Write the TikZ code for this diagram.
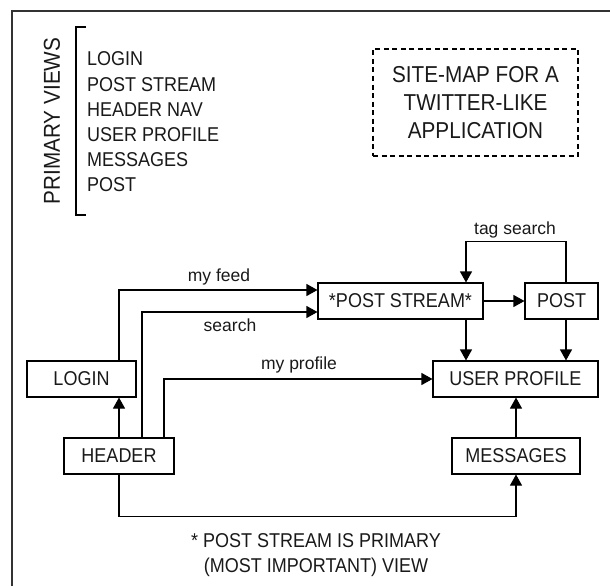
\documentclass[tikz,border=0pt]{standalone}
\usepackage{fontspec}
\setmainfont[FakeStretch=0.9]{Liberation Sans}
\newfontfamily\labfont{Liberation Sans}
\usetikzlibrary{arrows.meta,calc}
\tikzset{
  box/.style={draw=black, line width=1.1pt, inner sep=0pt, font=\fontsize{20}{24}\selectfont, text=black!90},
  arr/.style={-{Triangle[length=11pt,width=12pt]}},
  conn/.style={line width=1.1pt, draw=black},
  lab/.style={font=\labfont\fontsize{17.5}{20}\selectfont, anchor=base, text=black!90},
  listitem/.style={font=\fontsize{20}{24}\selectfont, anchor=base west, inner sep=0pt, text=black!90}
}
\begin{document}
\begin{tikzpicture}[x=1pt,y=-1pt]
\useasboundingbox (0,0) rectangle (610,586);
% frame
\draw[line width=1.8pt, black!80] (12,586) -- (12,11) -- (610,11);
% primary views legend
\node[rotate=90, font=\fontsize{23}{26}\selectfont, inner sep=0pt, text=black!90] (pv) at (52,121) {PRIMARY VIEWS};
\draw[line width=1.1pt] (86,27) -- (76,27) -- (76,215) -- (86,215);
\node[listitem] (l1) at (87,66) {LOGIN};
\node[listitem] (l2) at (87,91) {POST STREAM};
\node[listitem] (l3) at (87,116) {HEADER NAV};
\node[listitem] (l4) at (87,141) {USER PROFILE};
\node[listitem] (l5) at (87,166) {MESSAGES};
\node[listitem] (l6) at (87,191) {POST};
% title
\node[draw=black, dash pattern=on 5pt off 3.5pt, line width=1.1pt, minimum width=205pt, minimum height=107pt, align=center, inner sep=0pt, font=\fontsize{23}{28}\selectfont, text=black!90] (title) at (475.5,102.5) {SITE-MAP FOR A\\TWITTER-LIKE\\APPLICATION};
% boxes
\node[box, minimum width=165pt, minimum height=36pt] (stream) at (400.5,301) {*POST STREAM*};
\node[box, minimum width=73pt, minimum height=36pt] (post) at (561.5,301) {POST};
\node[box, minimum width=165pt, minimum height=36pt] (profile) at (515.5,379) {USER PROFILE};
\node[box, minimum width=109pt, minimum height=36pt] (login) at (81.5,379) {LOGIN};
\node[box, minimum width=110pt, minimum height=36pt] (header) at (119,456) {HEADER};
\node[box, minimum width=128pt, minimum height=36pt] (messages) at (516,456) {MESSAGES};
% helper x positions
\coordinate (c2) at (142,0);
\coordinate (c3) at (164,0);
\coordinate (c4) at (466,0);
\coordinate (c5) at (566,0);
% connectors
\draw[conn,arr] (header.north) -- (login.south -| header.north);
\draw[conn,arr] (login.north -| header.north) |- ($(stream.west)+(0,-11)$);
\draw[conn,arr] (header.north -| c2) |- ($(stream.west)+(0,11)$);
\draw[conn,arr] (header.north -| c3) |- (profile.west);
\draw[conn,arr] (header.south) -- ++(0,42) -| (messages.south);
\draw[conn,arr] (messages.north) -- (profile.south -| messages.north);
\draw[conn,arr] (stream.east) -- (post.west);
\draw[conn,arr] (stream.south -| c4) -- (profile.north -| c4);
\draw[conn,arr] (post.south -| c5) -- (profile.north -| c5);
\draw[conn,arr] (post.north -| c5) -- ++(0,-41) -| (stream.north -| c4);
% labels
\node[lab] (ltag) at (515,234) {tag search};
\node[lab] (lfeed) at (219,281.5) {my feed};
\node[lab] (lsearch) at (230,331.5) {search};
\node[lab] (lprof) at (299,369) {my profile};
% footnote
\node[align=center, font=\fontsize{20}{25}\selectfont, inner sep=0pt, anchor=center, text=black!90] (foot) at (316,555) {* POST STREAM IS PRIMARY\\(MOST IMPORTANT) VIEW};
\end{tikzpicture}
\end{document}
